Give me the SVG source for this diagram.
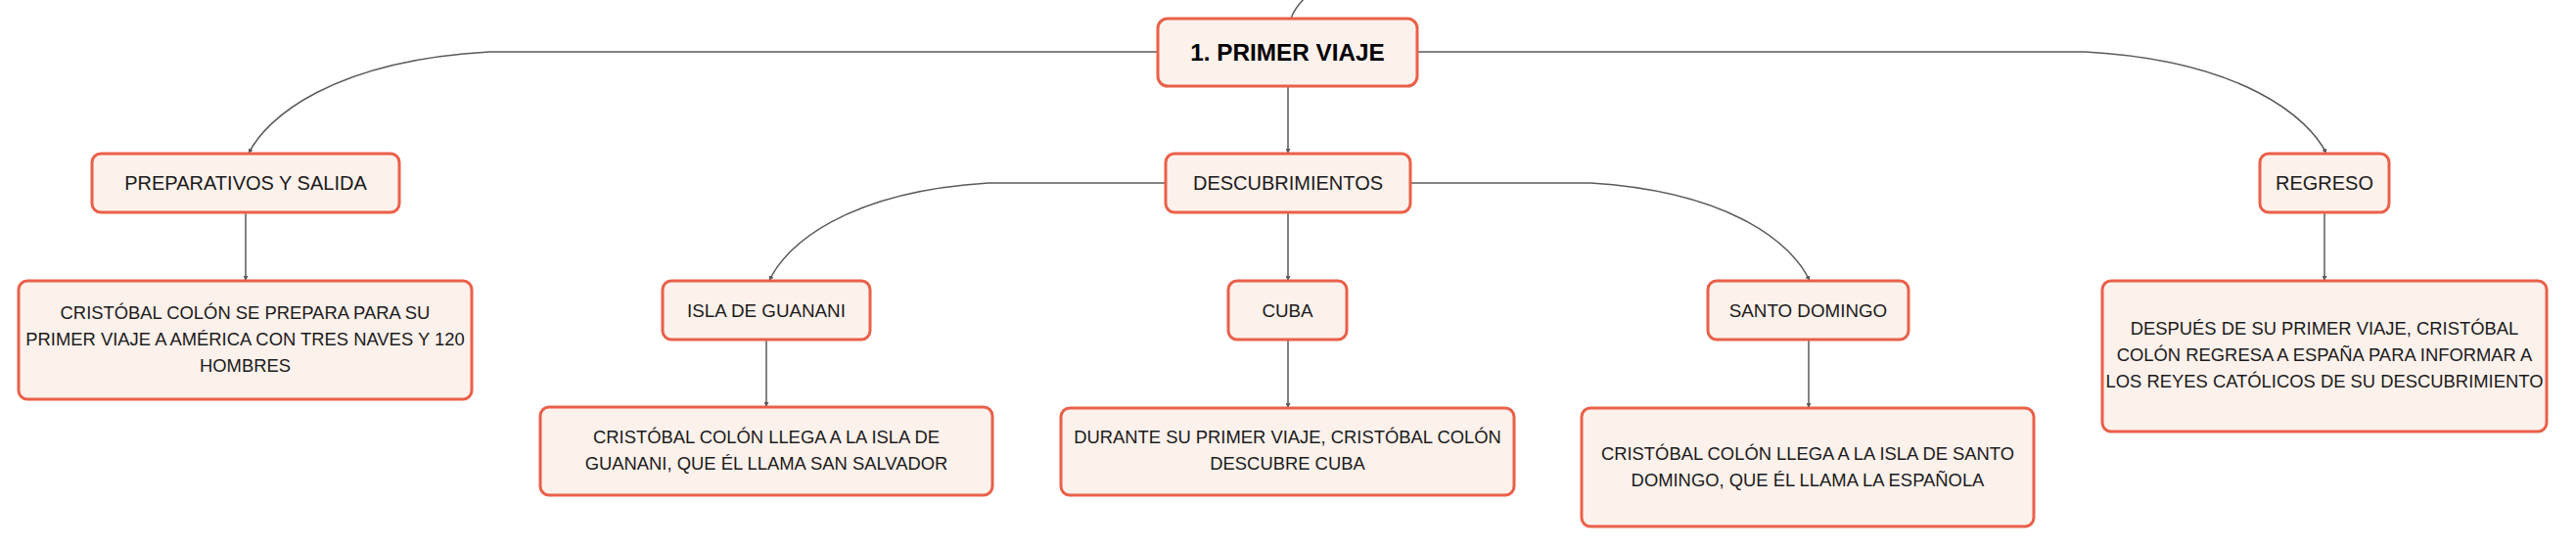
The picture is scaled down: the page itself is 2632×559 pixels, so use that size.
<svg xmlns="http://www.w3.org/2000/svg" width="2632" height="559" viewBox="0 0 2632 559">
<style>
.box{fill:#fdf1ec;stroke:#ea6049;stroke-width:3}
.t{font-family:"Liberation Sans",Arial,sans-serif;fill:#1a1a1a;text-anchor:middle}
.root{font-size:24.3px;font-weight:bold;fill:#000}
.l2{font-size:20px}
.l3{font-size:18.8px}
.c{font-size:18.4px}
.edge{fill:none;stroke:#5a5a5a;stroke-width:1.5}
</style>
<defs>
<marker id="arr" viewBox="0 0 6 6" refX="6" refY="3" markerWidth="5" markerHeight="5" markerUnits="userSpaceOnUse" orient="auto">
<path d="M0,0 L6,3 L0,6 z" fill="#5a5a5a"/>
</marker>
</defs>
<rect width="2632" height="559" fill="#ffffff"/>
<g id="connectors">
<path class="edge" d="M1319 19 C1322 10 1327 4 1334 -3"/>
<path class="edge" marker-end="url(#arr)" d="M1183 53 L500 53 C340 62 272 120 254 157"/>
<path class="edge" marker-end="url(#arr)" d="M1448 53 L2131 53 C2291 62 2359 120 2377 157"/>
<path class="edge" marker-end="url(#arr)" d="M1316 88 L1316 157"/>
<path class="edge" marker-end="url(#arr)" d="M1191 187 L1010 187 C864 196 802 251 786 287"/>
<path class="edge" marker-end="url(#arr)" d="M1441 187 L1625 187 C1771 196 1833 251 1849 287"/>
<path class="edge" marker-end="url(#arr)" d="M1316 217 L1316 287"/>
<path class="edge" marker-end="url(#arr)" d="M251 217 L251 287"/>
<path class="edge" marker-end="url(#arr)" d="M2375 217 L2375 287"/>
<path class="edge" marker-end="url(#arr)" d="M783 347 L783 416"/>
<path class="edge" marker-end="url(#arr)" d="M1316 347 L1316 417"/>
<path class="edge" marker-end="url(#arr)" d="M1848 347 L1848 417"/>
</g>
<g id="root">
<rect class="box" x="1183" y="19" width="265" height="69" rx="10"/>
<text class="t root" x="1315.5" y="62">1. PRIMER VIAJE</text>
</g>
<g id="preparativos">
<rect class="box" x="94" y="157" width="314" height="60" rx="9"/>
<text class="t l2" x="251" y="194">PREPARATIVOS Y SALIDA</text>
</g>
<g id="descubrimientos">
<rect class="box" x="1191" y="157" width="250" height="60" rx="9"/>
<text class="t l2" x="1316" y="194">DESCUBRIMIENTOS</text>
</g>
<g id="regreso">
<rect class="box" x="2309" y="157" width="132" height="60" rx="9"/>
<text class="t l2" x="2375" y="194">REGRESO</text>
</g>
<g id="isla">
<rect class="box" x="677" y="287" width="212" height="60" rx="9"/>
<text class="t l3" x="783" y="323.5">ISLA DE GUANANI</text>
</g>
<g id="cuba">
<rect class="box" x="1255" y="287" width="121" height="60" rx="9"/>
<text class="t l3" x="1315.5" y="323.5">CUBA</text>
</g>
<g id="santodomingo">
<rect class="box" x="1745" y="287" width="205" height="60" rx="9"/>
<text class="t l3" x="1847.5" y="323.5">SANTO DOMINGO</text>
</g>
<g id="c-preparativos">
<rect class="box" x="19" y="287" width="463" height="121" rx="9"/>
<text class="t c" x="250.5" y="326">CRISTÓBAL COLÓN SE PREPARA PARA SU</text>
<text class="t c" x="250.5" y="353">PRIMER VIAJE A AMÉRICA CON TRES NAVES Y 120</text>
<text class="t c" x="250.5" y="380">HOMBRES</text>
</g>
<g id="c-isla">
<rect class="box" x="552" y="416" width="462" height="90" rx="9"/>
<text class="t c" x="783" y="453">CRISTÓBAL COLÓN LLEGA A LA ISLA DE</text>
<text class="t c" x="783" y="480">GUANANI, QUE ÉL LLAMA SAN SALVADOR</text>
</g>
<g id="c-cuba">
<rect class="box" x="1084" y="417" width="463" height="89" rx="9"/>
<text class="t c" x="1315.5" y="453">DURANTE SU PRIMER VIAJE, CRISTÓBAL COLÓN</text>
<text class="t c" x="1315.5" y="480">DESCUBRE CUBA</text>
</g>
<g id="c-santodomingo">
<rect class="box" x="1616" y="417" width="462" height="121" rx="9"/>
<text class="t c" x="1847" y="470">CRISTÓBAL COLÓN LLEGA A LA ISLA DE SANTO</text>
<text class="t c" x="1847" y="497">DOMINGO, QUE ÉL LLAMA LA ESPAÑOLA</text>
</g>
<g id="c-regreso">
<rect class="box" x="2148" y="287" width="454" height="154" rx="9"/>
<text class="t c" x="2375" y="342">DESPUÉS DE SU PRIMER VIAJE, CRISTÓBAL</text>
<text class="t c" x="2375" y="369">COLÓN REGRESA A ESPAÑA PARA INFORMAR A</text>
<text class="t c" x="2375" y="396">LOS REYES CATÓLICOS DE SU DESCUBRIMIENTO</text>
</g>
</svg>
